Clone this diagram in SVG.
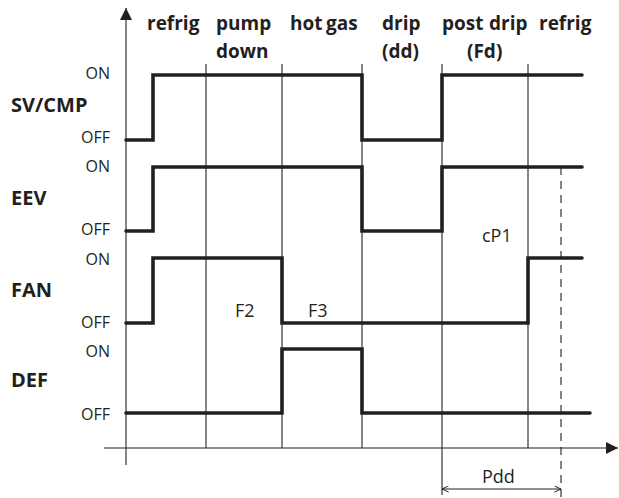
<svg xmlns="http://www.w3.org/2000/svg" width="619" height="498" viewBox="0 0 619 498">
<style>
.thin{stroke:#231f20;stroke-width:1.1;fill:none}
.thick{stroke:#231f20;stroke-width:3.6;fill:none;stroke-linejoin:miter;stroke-linecap:round}
.dash{stroke:#231f20;stroke-width:1.1;fill:none;stroke-dasharray:8 6}
.hd{font-family:"Open Sans","Noto Sans",sans-serif;font-weight:bold;font-size:19px;fill:#231f20}
.sig{font-family:"Open Sans","Noto Sans",sans-serif;font-weight:bold;font-size:20px;fill:#231f20}
.lv{font-family:"Open Sans","Noto Sans",sans-serif;font-size:16px;fill:#231f20;text-anchor:end}
.lb{font-family:"Open Sans","Noto Sans",sans-serif;font-size:18px;fill:#231f20}
</style>
<defs>
<marker id="ah" viewBox="0 0 10 10" refX="10" refY="5" markerWidth="16" markerHeight="12" markerUnits="userSpaceOnUse" orient="auto">
<path d="M0,0 L10,5 L0,10 z" fill="#231f20"/>
</marker>
<marker id="oa" viewBox="0 0 10 10" refX="9.5" refY="5" markerWidth="8" markerHeight="7" markerUnits="userSpaceOnUse" orient="auto-start-reverse">
<path d="M0,0.5 L9.5,5 L0,9.5" fill="none" stroke="#231f20" stroke-width="1.4"/>
</marker>
</defs>
<g id="axes">
<line class="thin" x1="126" y1="465" x2="126" y2="8" marker-end="url(#ah)" stroke-width="1.4"/>
<line class="thin" x1="104" y1="448" x2="618" y2="448" marker-end="url(#ah)" stroke-width="1.4"/>
</g>
<g id="connectors">
<line class="thin" x1="206" y1="64" x2="206" y2="448"/>
<line class="thin" x1="282" y1="64" x2="282" y2="448"/>
<line class="thin" x1="362" y1="64" x2="362" y2="448"/>
<line class="thin" x1="442" y1="64" x2="442" y2="495"/>
<line class="thin" x1="528" y1="64" x2="528" y2="448"/>
<line class="dash" x1="561" y1="167" x2="561" y2="498"/>
<line class="thin" x1="442" y1="489" x2="561" y2="489" marker-start="url(#oa)" marker-end="url(#oa)"/>
</g>
<g id="headers">
<text class="hd" x="147" y="30">refrig</text>
<text class="hd" x="216" y="30">pump</text>
<text class="hd" x="216" y="58">down</text>
<text class="hd" y="30"><tspan x="290">hot</tspan> <tspan x="326">gas</tspan></text>
<text class="hd" x="382" y="30">drip</text>
<text class="hd" x="382" y="58">(dd)</text>
<text class="hd" y="30"><tspan x="442">post</tspan> <tspan x="489">drip</tspan></text>
<text class="hd" x="467" y="58">(Fd)</text>
<text class="hd" x="539" y="30">refrig</text>
</g>
<g id="sv-cmp">
<text class="sig" x="11" y="112">SV/CMP</text>
<text class="lv" x="110" y="79">ON</text>
<text class="lv" x="110" y="143">OFF</text>
<path class="thick" d="M126,140 H153 V75 H362 V140 H442 V75 H582"/>
</g>
<g id="eev">
<text class="sig" x="11" y="205">EEV</text>
<text class="lv" x="110" y="172">ON</text>
<text class="lv" x="110" y="235">OFF</text>
<path class="thick" d="M126,231 H153 V167 H362 V231 H442 V167 H582"/>
</g>
<g id="fan">
<text class="sig" x="11" y="297">FAN</text>
<text class="lv" x="110" y="265">ON</text>
<text class="lv" x="110" y="328">OFF</text>
<path class="thick" d="M126,323 H153 V258 H282 V323 H528 V258 H582"/>
</g>
<g id="def">
<text class="sig" x="11" y="387">DEF</text>
<text class="lv" x="110" y="357">ON</text>
<text class="lv" x="110" y="420">OFF</text>
<path class="thick" d="M126,413 H282 V349 H362 V413 H590"/>
</g>
<g id="labels">
<text class="lb" x="235" y="317">F2</text>
<text class="lb" x="308" y="317">F3</text>
<text class="lb" x="482" y="242">cP1</text>
<text class="lb" x="482" y="483" font-size="19">Pdd</text>
</g>
</svg>
